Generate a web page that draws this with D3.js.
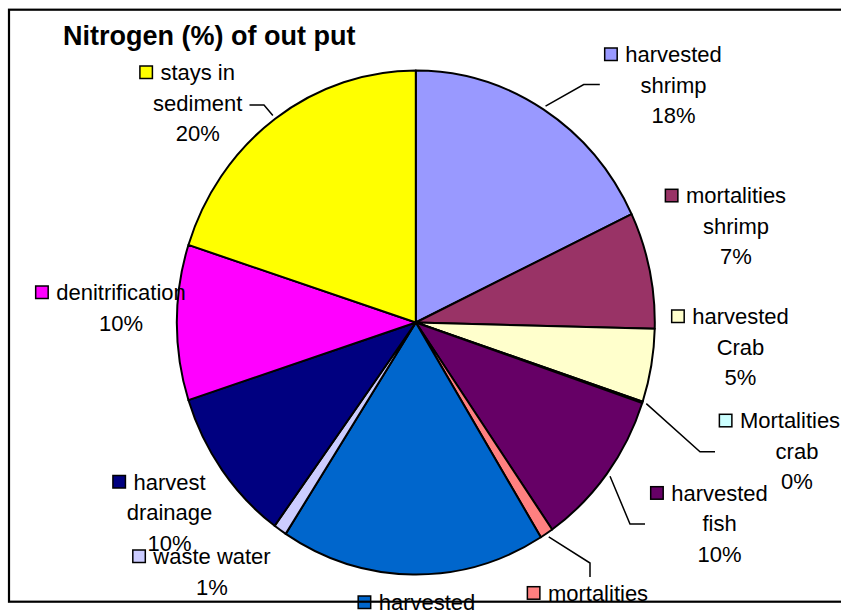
<!DOCTYPE html>
<html>
<head>
<meta charset="utf-8">
<script src="https://cdn.jsdelivr.net/npm/d3@7/dist/d3.min.js"></script>
<style>
  html, body { margin: 0; padding: 0; background: #fff; overflow: hidden; }
  svg { display: block; }
  text { font-family: "Liberation Sans", Arial, sans-serif; fill: #000; }
</style>
</head>
<body>
<svg id="chart" width="841" height="613"></svg>
<script>
// ---- data ----
const title = "Nitrogen (%) of out put";
const categories = [
  "harvested\nshrimp", "mortalities\nshrimp", "harvested\nCrab", "Mortalities\ncrab",
  "harvested\nfish", "mortalities\nfish", "harvested\nseaweed", "waste water",
  "harvest\ndrainage", "denitrification", "stays in\nsediment"
];
const values = [18, 7.5, 4.7, 0.1, 10.2, 0.9, 18, 0.9, 10, 10, 20.1];
const colors = [
  "#9999FF", "#993366", "#FFFFCC", "#CCFFFF", "#660066", "#FF8080",
  "#0066CC", "#CCCCFF", "#000080", "#FF00FF", "#FFFF00"
];

// ---- layout ----
const W = 841, H = 613;
const cx = 415.8, cy = 322.5, rx = 239, ry = 252;
const lineH = 30.5;
const fontSize = 22;
// label placement: centre x, first baseline y, optional first-line dx, leader [start, elbow]
const labelLayout = [
  { x: 673.5, y: 62,    leader: [[599.8, 84.5], [583.7, 84.5]] },
  { x: 736,   y: 203.3 },
  { x: 740.5, y: 324 },
  { x: 797,   y: 428.3, dx1: -7, leader: [[715, 451.7], [700, 451.7]] },
  { x: 719.5, y: 500.7, leader: [[645, 524], [630, 524]] },
  { x: 598,   y: 600.7, leader: [[590, 577], [590, 563]] },
  { x: 427,   y: 610 },
  { x: 212,   y: 564 },
  { x: 169.5, y: 489.5 },
  { x: 121,   y: 300 },
  { x: 197.7, y: 80,    leader: [[249.5, 105], [264, 105]] }
];

const svg = d3.select("#chart");
const total = d3.sum(values);

const pie = d3.pie().sort(null).value(d => d)(values);
const arc = d3.arc().innerRadius(0).outerRadius(rx);

const gPie = svg.append("g")
  .attr("transform", `translate(${cx},${cy}) scale(1,${ry / rx})`);

gPie.selectAll("path")
  .data(pie)
  .join("path")
  .attr("d", arc)
  .attr("fill", (d, i) => colors[i])
  .attr("stroke", "#000")
  .attr("stroke-width", 2)
  .attr("stroke-linejoin", "round")
  .attr("vector-effect", "non-scaling-stroke");

// leader lines
const edgePoint = (a, off) => [cx + (rx + off) * Math.sin(a), cy - (ry + off) * Math.cos(a)];
const gLead = svg.append("g");
pie.forEach((d, i) => {
  const L = labelLayout[i];
  if (!L.leader) return;
  const mid = (d.startAngle + d.endAngle) / 2;
  const pts = [L.leader[0], L.leader[1], edgePoint(mid, 4)];
  gLead.append("path")
    .attr("d", d3.line()(pts))
    .attr("fill", "none")
    .attr("stroke", "#000")
    .attr("stroke-width", 1.5);
});

// labels
const gLab = svg.append("g");
pie.forEach((d, i) => {
  const L = labelLayout[i];
  const lines = categories[i].split("\n").concat([Math.round(values[i] / total * 100) + "%"]);
  let firstText = null;
  lines.forEach((t, k) => {
    const tx = gLab.append("text")
      .attr("x", L.x + (k === 0 && L.dx1 ? L.dx1 : 0))
      .attr("y", L.y + k * lineH)
      .attr("text-anchor", "middle")
      .attr("font-size", fontSize)
      .text(t);
    if (k === 0) firstText = tx;
  });
  const w = firstText.node().getComputedTextLength();
  const left = L.x + (L.dx1 || 0) - w / 2;
  const s = 12.5;
  gLab.append("rect")
    .attr("x", left - 8 - s)
    .attr("y", L.y - 1.5 - s)
    .attr("width", s)
    .attr("height", s)
    .attr("fill", colors[i])
    .attr("stroke", "#000")
    .attr("stroke-width", 1.5);
});

// title
svg.append("text")
  .attr("x", 63)
  .attr("y", 45)
  .attr("font-size", 27)
  .attr("font-weight", "bold")
  .text(title);

// chart border
svg.append("rect")
  .attr("x", 9)
  .attr("y", 9.7)
  .attr("width", 860)
  .attr("height", 592)
  .attr("fill", "none")
  .attr("stroke", "#000")
  .attr("stroke-width", 2.2);
</script>
</body>
</html>
